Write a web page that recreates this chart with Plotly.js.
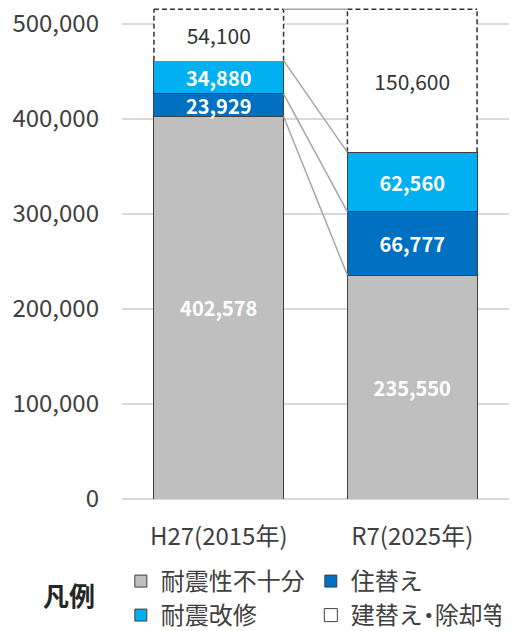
<!DOCTYPE html>
<html><head><meta charset="utf-8">
<script src="https://cdn.plot.ly/plotly-3.0.1.min.js"></script>
<style>html,body{margin:0;padding:0;background:#fff}#chart{width:515px;height:631px}</style>
</head><body><div id="chart"></div>
<script>
const categories = ['H27(2015年)', 'R7(2025年)'];
const seriesNames = ['耐震性不十分', '住替え', '耐震改修', '建替え・除却等'];
const insufficient = [402578, 235550];
const relocation = [23929, 66777];
const retrofit = [34880, 62560];
const rebuild = [54100, 150600];
const yTickVals = [0, 100000, 200000, 300000, 400000, 500000];

const colors = ['#BFBFBF', '#0070C0', '#00B0F0', '#FFFFFF'];
const FONT = '"Noto Sans CJK JP", "Noto Sans", sans-serif';
const bargap = 0.33;
const hw = (1 - bargap) / 2;

function barTrace(name, vals, color, textColor, bold, legendId, showLegend) {
  const isBlank = color === '#FFFFFF';
  return {
    type: 'bar', name: name, x: categories, y: vals,
    marker: {color: color, line: {color: isBlank ? 'rgba(0,0,0,0)' : '#404040', width: isBlank ? 0 : 1}},
    texttemplate: '%{y:,}', textposition: 'inside', insidetextanchor: 'middle',
    constraintext: 'none',
    textfont: {family: FONT, size: bold ? 20 : 21, color: textColor, weight: bold ? 'bold' : 'normal'},
    legend: legendId, showlegend: showLegend, hoverinfo: 'skip'
  };
}

// legend label for the dashed series, with the kana and middle dot drawn a little tighter
const rebuildLegendLabel = seriesNames[3].replace('え・', '<span style="letter-spacing:-6px">え・</span>');

const traces = [
  barTrace(seriesNames[0], insufficient, colors[0], '#FFFFFF', true, 'legend', true),
  barTrace(seriesNames[1], relocation, colors[1], '#FFFFFF', true, 'legend', true),
  barTrace(seriesNames[2], retrofit, colors[2], '#FFFFFF', true, 'legend2', true),
  barTrace(seriesNames[3], rebuild, colors[3], '#333333', false, 'legend2', false),
  {type: 'scatter', mode: 'markers', name: rebuildLegendLabel, x: [null], y: [null],
   marker: {symbol: 'square-open', size: 13, color: '#404040', line: {width: 1}},
   legend: 'legend2', showlegend: true, hoverinfo: 'skip'}
];

// cumulative tops per category
const stacks = [insufficient, relocation, retrofit, rebuild];
const cum = categories.map((c, i) => {
  let s = 0; return stacks.map(a => (s += a[i]));
});

const shapes = [];
// dashed boxes for the rebuild segment
categories.forEach((c, i) => {
  const lo = cum[i][2], hi = cum[i][3];
  const x0 = i - hw, x1 = i + hw;
  const dashLine = {type: 'line', xref: 'x', yref: 'y', layer: 'above',
    line: {color: '#333333', width: 1.5, dash: '5px,3px'}};
  shapes.push(Object.assign({}, dashLine, {x0: x0, x1: x1, y0: hi, y1: hi}));
  shapes.push(Object.assign({}, dashLine, {x0: x0, x1: x0, y0: lo, y1: hi}));
  shapes.push(Object.assign({}, dashLine, {x0: x1, x1: x1, y0: lo, y1: hi}));
});
// connector lines between bars
for (let k = 0; k < 4; k++) {
  shapes.push({type: 'line', xref: 'x', yref: 'y', layer: 'above',
    x0: 0 + hw, x1: 1 - hw, y0: cum[0][k], y1: cum[1][k],
    line: {color: '#A6A6A6', width: 1.5}});
}

const legendCommon = {orientation: 'h', traceorder: 'normal', xref: 'paper', x: -0.003, xanchor: 'left',
  yref: 'paper', yanchor: 'top', entrywidth: 145,
  font: {family: FONT, size: 24, color: '#404040'}, bgcolor: 'rgba(0,0,0,0)'};

const layout = {
  width: 515, height: 631,
  margin: {l: 122, r: 6, t: 5, b: 132, autoexpand: false},
  paper_bgcolor: '#FFFFFF', plot_bgcolor: '#FFFFFF',
  barmode: 'stack', bargap: bargap,
  font: {family: FONT, color: '#404040'},
  xaxis: {type: 'category', tickfont: {size: 24, family: FONT, color: '#404040'},
    ticks: 'outside', ticklen: 16, tickcolor: 'rgba(0,0,0,0)', showgrid: false,
    showline: false, fixedrange: true},
  yaxis: {range: [0, 520000], tickvals: yTickVals, tickformat: ',',
    tickfont: {size: 24, family: FONT, color: '#404040'},
    showgrid: true, gridcolor: '#D9D9D9', gridwidth: 1.5,
    zeroline: true, zerolinecolor: '#D9D9D9', zerolinewidth: 1.5,
    ticklabelstandoff: 22, showline: false, fixedrange: true},
  showlegend: true,
  legend: Object.assign({}, legendCommon, {y: -(559 - 499) / 494}),
  legend2: Object.assign({}, legendCommon, {y: -(593 - 499) / 494}),
  shapes: shapes,
  annotations: [{text: '凡例', xref: 'paper', yref: 'paper', x: -0.137, y: -0.193,
    xanchor: 'center', yanchor: 'middle', showarrow: false,
    font: {family: FONT, size: 26, color: '#262626', weight: 'bold'}}]
};

Plotly.newPlot('chart', traces, layout, {displayModeBar: false, staticPlot: true});
</script></body></html>
